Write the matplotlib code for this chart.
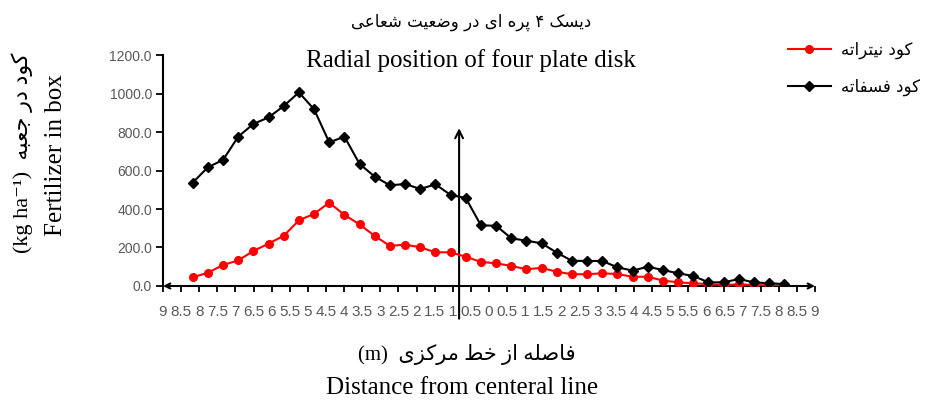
import numpy as np
import matplotlib
matplotlib.use('Agg')
from matplotlib import pyplot as plt

# values
black_vals = [537, 617, 655, 776, 842, 876, 935, 1006, 918, 746, 776, 634, 568, 523, 530,
              504, 528, 473, 457, 315, 313, 248, 235, 222, 173, 131, 130, 130, 97, 80,
              100, 83, 66, 52, 19, 19, 36, 19, 14, 10]
red_vals = [45, 69, 109, 133, 182, 220, 261, 341, 375, 433, 369, 320, 260, 208, 215,
            201, 175, 175, 152, 125, 118, 104, 87, 94, 74, 61, 61, 66, 62, 48,
            48, 28, 19, 14, 10, 5, 9, 5, 3, 0]
x_labels = ['9', '8.5', '8', '7.5', '7', '6.5', '6', '5.5', '5', '4.5', '4', '3.5', '3',
            '2.5', '2', '1.5', '1', '0.5', '0', '0.5', '1', '1.5', '2', '2.5', '3', '3.5',
            '4', '4.5', '5', '5.5', '6', '6.5', '7', '7.5', '8', '8.5', '9']
y_ticks = [0, 200, 400, 600, 800, 1000, 1200]

title_fa = 'دیسک ۴ پره ای در وضعیت شعاعی'
title_en = 'Radial position of four plate disk'
name_red = 'کود نیتراته'
name_black = 'کود فسفاته'
ylab_fa = 'کود در جعبه'
ylab_en = 'Fertilizer in box'
xlab_fa = 'فاصله از خط مرکزی'
xlab_en = 'Distance from centeral line'

################################################################################
### tiny persian shaper (matplotlib does no arabic joining / rtl)
################################################################################
FORMS = {
    'ا': (0xFE8D, 0xFE8E), 'د': (0xFEA9, 0xFEAA), 'ر': (0xFEAD, 0xFEAE),
    'ز': (0xFEAF, 0xFEB0), 'و': (0xFEED, 0xFEEE),
    'ب': (0xFE8F, 0xFE90, 0xFE91, 0xFE92), 'پ': (0xFB56, 0xFB57, 0xFB58, 0xFB59),
    'ت': (0xFE95, 0xFE96, 0xFE97, 0xFE98), 'ج': (0xFE9D, 0xFE9E, 0xFE9F, 0xFEA0),
    'خ': (0xFEA5, 0xFEA6, 0xFEA7, 0xFEA8), 'س': (0xFEB1, 0xFEB2, 0xFEB3, 0xFEB4),
    'ش': (0xFEB5, 0xFEB6, 0xFEB7, 0xFEB8), 'ص': (0xFEB9, 0xFEBA, 0xFEBB, 0xFEBC),
    'ض': (0xFEBD, 0xFEBE, 0xFEBF, 0xFEC0), 'ط': (0xFEC1, 0xFEC2, 0xFEC3, 0xFEC4),
    'ع': (0xFEC9, 0xFECA, 0xFECB, 0xFECC), 'ف': (0xFED1, 0xFED2, 0xFED3, 0xFED4),
    'ق': (0xFED5, 0xFED6, 0xFED7, 0xFED8), 'ک': (0xFB8E, 0xFB8F, 0xFB90, 0xFB91),
    'ل': (0xFEDD, 0xFEDE, 0xFEDF, 0xFEE0), 'م': (0xFEE1, 0xFEE2, 0xFEE3, 0xFEE4),
    'ن': (0xFEE5, 0xFEE6, 0xFEE7, 0xFEE8), 'ه': (0xFEE9, 0xFEEA, 0xFEEB, 0xFEEC),
    'ی': (0xFBFC, 0xFBFD, 0xFBFE, 0xFBFF),
}


def fa(s):
    out = []
    for i, c in enumerate(s):
        if c not in FORMS:
            out.append(c)
            continue
        prev = s[i - 1] if i > 0 else ''
        nxt = s[i + 1] if i + 1 < len(s) else ''
        f = FORMS[c]
        jp = prev in FORMS and len(FORMS[prev]) == 4
        jn = len(f) == 4 and nxt in FORMS
        if jp and jn:
            k = 3
        elif jp:
            k = 1
        elif jn:
            k = 2
        else:
            k = 0
        out.append(chr(f[k]))
    return ''.join(out)[::-1]


SERIF = ['Liberation Serif', 'DejaVu Sans']
FA = ['DejaVu Sans']
GRAY = '#595959'

fig = plt.figure(figsize=(9.33, 4.01), dpi=100)
ax = fig.add_axes([0.1747, 0.2868, 0.6988, 0.576])
ax.set_xlim(0, len(x_labels) - 1)
ax.set_ylim(y_ticks[0], y_ticks[-1])

# category ticks
ax.set_xticks(np.arange(len(x_labels)))
ax.set_xticklabels(x_labels, fontsize=11, color=GRAY, family='Liberation Sans')
ax.set_yticks(y_ticks)
ax.set_yticklabels(['%.1f' % v for v in y_ticks], fontsize=10, color=GRAY,
                   family='Liberation Sans')
ax.tick_params(axis='x', direction='out', length=4, width=1.3, pad=10)
ax.tick_params(axis='y', direction='out', length=5, width=1.3, pad=3)
for s in ['top', 'right', 'bottom']:
    ax.spines[s].set_visible(False)
ax.spines['left'].set_linewidth(1.5)

# x axis drawn as double headed arrow
ax.annotate('', xy=(0, 0), xytext=(len(x_labels) - 1, 0), xycoords='data',
            arrowprops=dict(arrowstyle='<->', lw=1.5, color='black',
                            mutation_scale=9, shrinkA=0, shrinkB=0),
            annotation_clip=False)
# vertical arrow marker
ax.annotate('', xy=(16.35, 820), xytext=(16.35, -170), xycoords='data',
            arrowprops=dict(arrowstyle='->', lw=1.5, color='black',
                            mutation_scale=14, shrinkA=0, shrinkB=0),
            annotation_clip=False)

# data on its own x scale (points are not aligned with the category ticks)
ax2 = ax.twiny()
ax2.set_xlim(-1.96, 41.02)
ax2.axis('off')
idx = np.arange(len(black_vals))
l1, = ax2.plot(idx, red_vals, color='#FF0000', lw=1.5, marker='o', ms=5.5,
               label=fa(name_red))
l2, = ax2.plot(idx, black_vals, color='black', lw=1.5, marker='D', ms=5,
               label=fa(name_black))

fig.legend(handles=[l1, l2], loc='upper left', bbox_to_anchor=(0.828, 0.935),
           frameon=False, handlelength=2.6, labelspacing=1.1, handletextpad=0.6,
           prop={'family': FA, 'size': 12})

# titles and labels
fig.text(0.505, 0.945, fa(title_fa), ha='center', va='center', family=FA, fontsize=12)
fig.text(0.505, 0.85, title_en, ha='center', va='center', family=SERIF, fontsize=18)
fig.text(0.024, 0.618, '(kg ha⁻¹)  ' + fa(ylab_fa), rotation=90, ha='center',
         va='center', family=SERIF, fontsize=16)
fig.text(0.060, 0.613, ylab_en, rotation=90, ha='center', va='center',
         family=SERIF, fontsize=18)
fig.text(0.50, 0.115, '(m)  ' + fa(xlab_fa), ha='center', va='center',
         family=SERIF, fontsize=15)
fig.text(0.495, 0.032, xlab_en, ha='center', va='center', family=SERIF, fontsize=18)

fig.savefig('out.png', dpi=100)
